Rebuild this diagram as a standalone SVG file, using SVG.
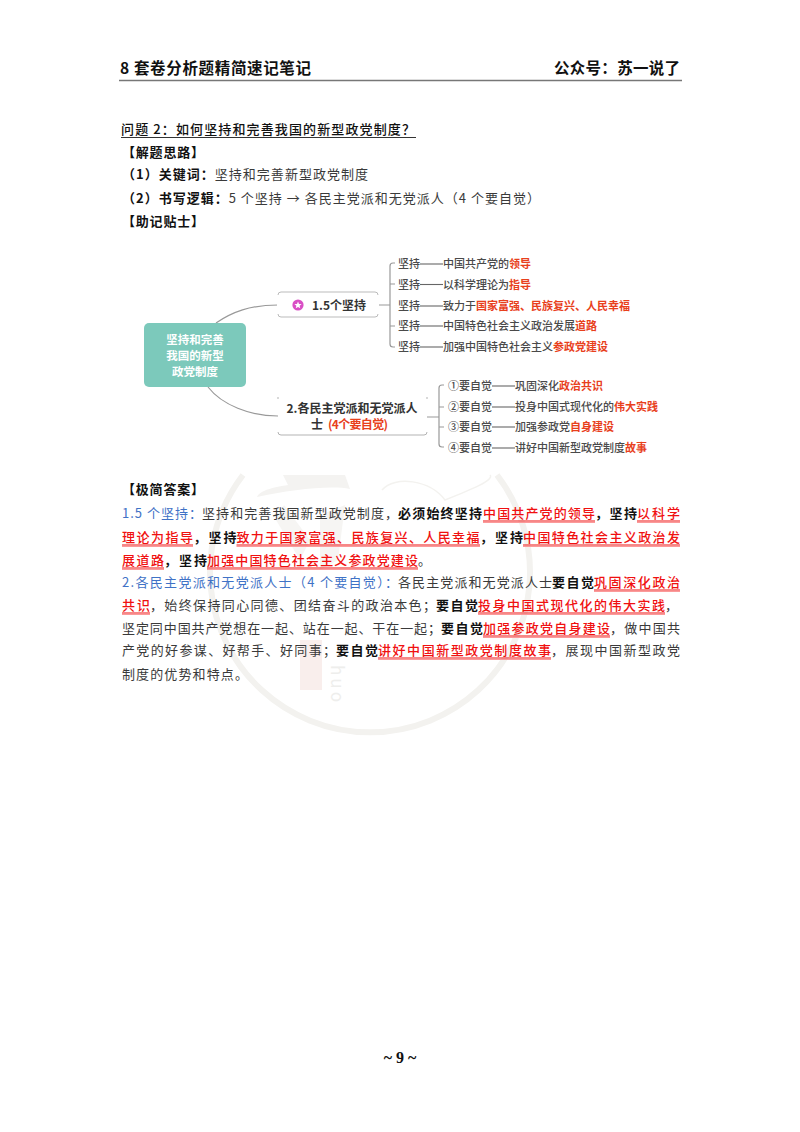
<svg xmlns="http://www.w3.org/2000/svg" width="800" height="1132" viewBox="0 0 800 1132">
<style>
text{font-family:"Noto Sans CJK SC","Liberation Serif",sans-serif;font-size:13px;fill:#3a3a3a}
.b{font-weight:700;fill:#111}
.r{font-weight:500;fill:#f01010}
.bl{fill:#3f72c6}
.u{stroke:#f01010;stroke-width:1.1}
.u2{stroke:#fb9a9a;stroke-width:1}
.m{font-size:11px;fill:#4a4a4a;font-weight:500}
.mr{font-size:11px;fill:#e8401c;font-weight:700}
.c{fill:none;stroke:#999;stroke-width:1.2}
.d{stroke:#666;stroke-width:1.1}
.wm{fill:none;stroke:#f3f2ef;stroke-width:6}
</style>
<rect width="800" height="1132" fill="#fff"/>
<g id="header">
<text x="120" y="74" class="b" style="font-size:15.5px" textLength="191">8 套卷分析题精简速记笔记</text>
<text x="554" y="74" class="b" style="font-size:15.5px" textLength="126">公众号：苏一说了</text>
<line x1="119" y1="80.5" x2="682" y2="80.5" stroke="#777" stroke-width="1.6"/>
</g>
<g id="watermark">
<path class="wm" d="M243 475A160 160 0 1 0 497 475"/>
<path d="M257 497C290 490 330 485 350 489L345 475H283L288 485C275 487 260 490 257 497Z" fill="#f4f3f1"/>
<path d="M284 505L310 540L300 560L276 520ZM320 515L345 505L338 560L320 570Z" fill="#f6f5f3"/>
<path class="wm" style="stroke-width:1.5" d="M382 490C395 475 430 480 445 500C470 490 495 480 490 475"/>
<rect x="300" y="640" width="22" height="50" fill="#f9eeec"/>
<text transform="translate(331 665) rotate(90)" style="font-size:17px;fill:#eeeeec;letter-spacing:3px">huo</text>
</g>
<g id="question">
<text x="121" y="134" class="b" style="font-weight:500" textLength="294">问题 2：如何坚持和完善我国的新型政党制度？</text>
<line x1="121" y1="137.5" x2="416" y2="137.5" stroke="#333" stroke-width="1"/>
<text x="122" y="157" class="b" textLength="82">【解题思路】</text>
<text x="122" y="179" textLength="246"><tspan class="b">（1）关键词：</tspan>坚持和完善新型政党制度</text>
<text x="122" y="203" textLength="418"><tspan class="b">（2）书写逻辑：</tspan>5 个坚持 → 各民主党派和无党派人（4 个要自觉）</text>
<text x="122" y="226" class="b" textLength="82">【助记贴士】</text>
</g>
<g id="connectors">
<path class="c" d="M216 323C232 312 250 305 278 305"/>
<path class="c" d="M208 387C222 405 250 416 278 416"/>
<path class="c" d="M378 305H390M395 263H393Q390 263 390 266V344Q390 347 393 347H395M390 284H395M390 326H395"/>
<path class="c" d="M427 417H439M444 385H442Q439 385 439 388V444Q439 447 442 447H444M439 407H444M439 427H444"/>
</g>
<g id="root">
<rect x="144" y="323" width="102" height="64" rx="5" fill="#7cc9bb"/>
<text x="195" y="343.5" text-anchor="middle" style="font-size:11.5px;fill:#fff;font-weight:700">坚持和完善</text>
<text x="195" y="360" text-anchor="middle" style="font-size:11.5px;fill:#fff;font-weight:700">我国的新型</text>
<text x="195" y="376" text-anchor="middle" style="font-size:11.5px;fill:#fff;font-weight:700">政党制度</text>
</g>
<g id="node1">
<rect x="278" y="292" width="100" height="25" rx="3" fill="#fff" stroke="#aaa" stroke-width="0.8"/>
<path d="M278 295V314M378 295V314" stroke="#fff" stroke-width="2"/>
<circle cx="298" cy="305" r="5.6" fill="#d94fc5"/>
<polygon points="298,301.5 299,304 301.600,304.100 299.600,305.700 300.300,308.300 298,306.900 295.700,308.300 296.400,305.700 294.400,304.100 297,304" fill="#fff"/>
<text x="312" y="309.500" style="font-size:12px;font-weight:700;fill:#333">1.5个坚持</text>
</g>
<g id="node2">
<path d="M278 397V399M427 397V399M278 432Q278 435 281 435H424Q427 435 427 432" fill="none" stroke="#aaa" stroke-width="0.9"/>
<text x="352" y="412.500" text-anchor="middle" style="font-size:12px;font-weight:700;fill:#333">2.各民主党派和无党派人</text>
<text x="311" y="428.500" style="font-size:12px;font-weight:700;fill:#333">士</text>
<text x="328" y="428.500" style="font-size:12px;font-weight:700;fill:#e8401c" textLength="60">(4个要自觉)</text>
</g>
<g id="leaf1-1"><text x="398" y="268" class="m">坚持</text><line class="d" x1="420" y1="264" x2="443" y2="264"/><text x="443" y="268" class="m">中国共产党的<tspan class="mr">领导</tspan></text></g>
<g id="leaf1-2"><text x="398" y="288.500" class="m">坚持</text><line class="d" x1="420" y1="284.500" x2="443" y2="284.500"/><text x="443" y="288.500" class="m">以科学理论为<tspan class="mr">指导</tspan></text></g>
<g id="leaf1-3"><text x="398" y="310" class="m">坚持</text><line class="d" x1="420" y1="306" x2="443" y2="306"/><text x="443" y="310" class="m">致力于<tspan class="mr">国家富强、民族复兴、人民幸福</tspan></text></g>
<g id="leaf1-4"><text x="398" y="330" class="m">坚持</text><line class="d" x1="420" y1="326" x2="443" y2="326"/><text x="443" y="330" class="m">中国特色社会主义政治发展<tspan class="mr">道路</tspan></text></g>
<g id="leaf1-5"><text x="398" y="351" class="m">坚持</text><line class="d" x1="420" y1="347" x2="443" y2="347"/><text x="443" y="351" class="m">加强中国特色社会主义<tspan class="mr">参政党建设</tspan></text></g>
<g id="leaf2-1"><text x="448" y="390" class="m">①要自觉</text><line class="d" x1="492" y1="386" x2="515" y2="386"/><text x="515" y="390" class="m">巩固深化<tspan class="mr">政治共识</tspan></text></g>
<g id="leaf2-2"><text x="448" y="411" class="m">②要自觉</text><line class="d" x1="492" y1="407" x2="515" y2="407"/><text x="515" y="411" class="m">投身中国式现代化的<tspan class="mr">伟大实践</tspan></text></g>
<g id="leaf2-3"><text x="448" y="431" class="m">③要自觉</text><line class="d" x1="492" y1="427" x2="515" y2="427"/><text x="515" y="431" class="m">加强参政党<tspan class="mr">自身建设</tspan></text></g>
<g id="leaf2-4"><text x="448" y="452" class="m">④要自觉</text><line class="d" x1="492" y1="448" x2="515" y2="448"/><text x="515" y="452" class="m">讲好中国新型政党制度<tspan class="mr">故事</tspan></text></g>
<g id="answer">
<text x="122" y="494" class="b" textLength="82">【极简答案】</text>
<text x="122" y="518" class="bl" textLength="80">1.5 个坚持：</text>
<text x="202" y="518" textLength="196">坚持和完善我国新型政党制度，</text>
<text x="398" y="518" class="b" textLength="84">必须始终坚持</text>
<text x="483" y="518" class="r" textLength="112">中国共产党的领导</text>
<text x="595" y="518" class="b" textLength="42">，坚持</text>
<text x="637" y="518" class="r" textLength="43">以科学</text>
<text x="122" y="542" class="r" textLength="71">理论为指导</text>
<text x="193.500" y="542" class="b" textLength="43">，坚持</text>
<text x="236.500" y="542" class="r" textLength="243">致力于国家富强、民族复兴、人民幸福</text>
<text x="480" y="542" class="b" textLength="43">，坚持</text>
<text x="523" y="542" class="r" textLength="157">中国特色社会主义政治发</text>
<text x="122" y="565" class="r" textLength="42">展道路</text>
<text x="164" y="565" class="b" textLength="43">，坚持</text>
<text x="207" y="565" class="r" textLength="211">加强中国特色社会主义参政党建设</text>
<text x="418" y="565">。</text>
<text x="122" y="587" class="bl" textLength="276">2.各民主党派和无党派人士（4 个要自觉）：</text>
<text x="398" y="587" textLength="154">各民主党派和无党派人士</text>
<text x="552" y="587" class="b" textLength="42">要自觉</text>
<text x="594" y="587" class="r" textLength="86">巩固深化政治</text>
<text x="122" y="610" class="r" textLength="28">共识</text>
<text x="150" y="610" textLength="286">，始终保持同心同德、团结奋斗的政治本色；</text>
<text x="436" y="610" class="b" textLength="42">要自觉</text>
<text x="478" y="610" class="r" textLength="187">投身中国式现代化的伟大实践</text>
<text x="665" y="610">，</text>
<text x="122" y="633" textLength="319">坚定同中国共产党想在一起、站在一起、干在一起；</text>
<text x="441" y="633" class="b" textLength="42">要自觉</text>
<text x="483" y="633" class="r" textLength="127">加强参政党自身建设</text>
<text x="610" y="633" textLength="70">，做中国共</text>
<text x="122" y="655" textLength="214">产党的好参谋、好帮手、好同事；</text>
<text x="336" y="655" class="b" textLength="42">要自觉</text>
<text x="378" y="655" class="r" textLength="173">讲好中国新型政党制度故事</text>
<text x="551" y="655" textLength="129">，展现中国新型政党</text>
<text x="122" y="679" textLength="126">制度的优势和特点。</text>
<path class="u" d="M483 521H595M637 521H680M122 545H193M236.500 545H480M523 545H680M122 568H164M207 568H418M594 590H680M122 613H150M478 613H665M483 636H610M378 658H551"/>
<path class="u2" d="M483 522.500H595M637 522.500H680M122 546.500H193M236.500 546.500H480M523 546.500H680M122 569.500H164M207 569.500H418M594 591.500H680M122 614.500H150M478 614.500H665M483 637.500H610M378 659.500H551"/>
</g>
<g id="footer">
<text x="400" y="1063" text-anchor="middle" class="b" style="font-family:'Liberation Serif',serif;font-size:16px">~ 9 ~</text>
</g>
</svg>
